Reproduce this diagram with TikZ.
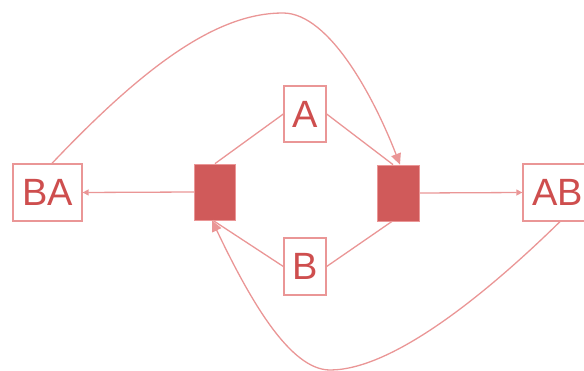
\documentclass[tikz,border=0pt]{standalone}
\usepackage{fontspec}
\setmainfont{Liberation Sans}
\usetikzlibrary{arrows.meta}
\definecolor{lineC}{RGB}{234,150,150}
\definecolor{fillC}{RGB}{208,90,90}
\definecolor{textC}{RGB}{206,78,78}
\tikzset{
  lbl/.style={draw=lineC, line width=1.3pt, fill=white, text=textC, inner sep=0pt,
    font=\fontsize{38}{38}\selectfont},
  blk/.style={draw=lineC, line width=0.8pt, fill=fillC, inner sep=0pt, minimum width=41pt, minimum height=56pt},
  conn/.style={draw=lineC, line width=1.3pt},
  arr/.style={conn, -{Triangle[width=6pt,length=6pt]}},
  bigarr/.style={conn, -{Triangle[width=10pt,length=11pt]}}
}
\begin{document}
\begin{tikzpicture}[x=1pt,y=-1pt]
\useasboundingbox (0,0) rectangle (584,371);
\clip (0,0) rectangle (584,371);
\node[lbl, minimum width=69pt, minimum height=57pt] (BA) at (47.5,192.5) {BA};
\node[lbl, minimum width=69pt, minimum height=57pt] (AB) at (557.5,192.5) {AB};
\node[lbl, minimum width=42pt, minimum height=56pt] (A) at (305,114) {A};
\node[lbl, minimum width=42pt, minimum height=57pt] (B) at (305,266.5) {B};
\node[blk] (L) at (215,192) {};
\node[blk, minimum width=42pt] (R) at (398,193) {};
\coordinate (topP) at (283,13);
\coordinate (botP) at (330,370);
% straight links
\draw[conn] (A.west) -- (L.north);
\draw[conn] (A.east) -- ([xshift=-5pt]R.north);
\draw[conn] (B.west) -- ([xshift=-2pt]L.south);
\draw[conn] (B.east) -- ([xshift=-6pt]R.south);
\draw[arr] (L.west) -- (BA.east);
\draw[arr] (R.east) -- (AB.west);
% curves
\draw[bigarr] ([xshift=4.5pt]BA.north) .. controls (150,60) and (220,13) .. (topP)
  .. controls (330,13) and (375,100) .. ([xshift=2pt]R.north);
\draw[bigarr] ([xshift=2.5pt]AB.south) .. controls (480,300) and (390,370) .. (botP)
  .. controls (290,370) and (250,300) .. ([xshift=-3pt]L.south);
\end{tikzpicture}
\end{document}
